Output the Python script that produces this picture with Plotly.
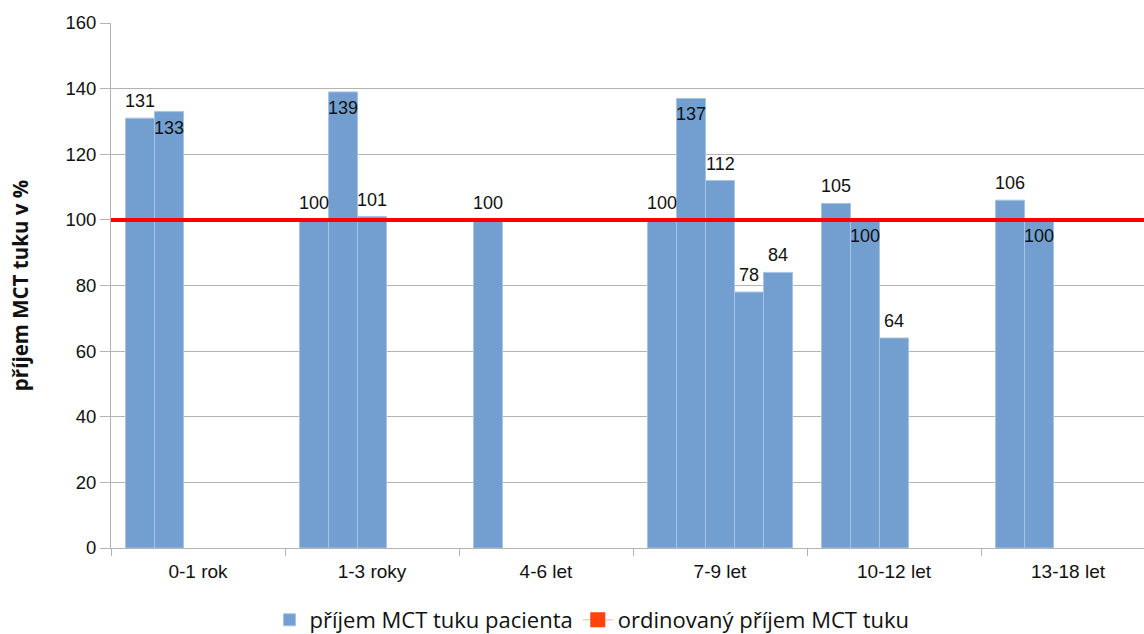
import plotly.graph_objects as go

# Age groups on the x axis
categories = ["0-1 rok", "1-3 roky", "4-6 let", "7-9 let", "10-12 let", "13-18 let"]

# Patients' MCT fat intake (% of prescribed), one list per age group
intake_0_1 = [131, 133]
intake_1_3 = [100, 139, 101]
intake_4_6 = [100]
intake_7_9 = [100, 137, 112, 78, 84]
intake_10_12 = [105, 100, 64]
intake_13_18 = [106, 100]

# Prescribed MCT fat intake (%)
prescribed = 100

y_ticks = [0, 20, 40, 60, 80, 100, 120, 140, 160]

groups = [intake_0_1, intake_1_3, intake_4_6, intake_7_9, intake_10_12, intake_13_18]
n_slots = max(len(g) for g in groups)

# value labels drawn just inside the bar top instead of above it
inside_labels = {(0, 1), (1, 1), (3, 1), (4, 1), (5, 1)}

BAR = "#729fcf"
SANS = "Liberation Sans, Arial, sans-serif"
LABEL_FONT = dict(family=SANS, size=18, color="#111111")

BARGAP = 29 / 174
X_RANGE = [-0.5, 5.5 - 11 / 174]
PLOT_L, PLOT_R = 111, 1144
cat_px = (PLOT_R - PLOT_L) / (X_RANGE[1] - X_RANGE[0])
bar_px = cat_px * (1 - BARGAP) / n_slots

fig = go.Figure()
for s in range(n_slots):
    ys = [g[s] if s < len(g) else None for g in groups]
    fig.add_trace(go.Bar(
        x=categories, y=ys,
        marker=dict(color=BAR, line=dict(color="#a9c3e3", width=1)),
        name="příjem MCT tuku pacienta", legendgroup="pac",
        showlegend=(s == 0), hoverinfo="y",
    ))

# value labels centred over each bar
annotations = []
for gi, g in enumerate(groups):
    for s, v in enumerate(g):
        inside = (gi, s) in inside_labels
        annotations.append(dict(
            x=categories[gi], y=v, xref="x", yref="y", text=str(v), showarrow=False,
            xshift=(s - (n_slots - 1) / 2) * bar_px,
            yanchor="top" if inside else "bottom",
            yshift=-4 if inside else 5,
            font=LABEL_FONT,
        ))

# prescribed level: horizontal red line across the plot
fig.add_shape(type="line", xref="paper", x0=0, x1=1, yref="y",
              y0=prescribed, y1=prescribed,
              line=dict(color="#ff0000", width=4), layer="above")
# legend entry for the prescribed level
fig.add_trace(go.Scatter(
    x=[None], y=[None], mode="lines+markers", name="ordinovaný příjem MCT tuku",
    marker=dict(symbol="square", size=15, color="#ff420e"),
    line=dict(color="#ffb3a6", width=1),
))

fig.update_layout(
    width=1144, height=634,
    margin=dict(l=PLOT_L, r=0, t=23, b=86, autoexpand=False),
    paper_bgcolor="white", plot_bgcolor="white",
    barmode="group", bargap=BARGAP, bargroupgap=0,
    font=dict(family=SANS, size=18, color="#111111"),
    showlegend=True,
    legend=dict(orientation="h", x=592 / 1144, xref="container", xanchor="center",
                y=1 - 620 / 634, yref="container", yanchor="middle",
                font=dict(family="Open Sans, sans-serif", size=22, color="#111111"),
                itemwidth=30, tracegroupgap=0),
    annotations=annotations,
    xaxis=dict(type="category", range=X_RANGE,
               tickson="boundaries", ticks="outside", ticklen=7, tickcolor="#b3b3b3",
               ticklabelstandoff=6,
               showgrid=False, showline=True, linecolor="#b3b3b3", linewidth=1,
               tickfont=dict(size=19)),
    yaxis=dict(range=[0, 160], tickvals=y_ticks, showgrid=True, gridcolor="#b3b3b3",
               gridwidth=1, zeroline=False, showline=True, linecolor="#b3b3b3",
               ticks="outside", ticklen=10, tickcolor="#b3b3b3", tickfont=dict(size=18.5),
               title=dict(text="příjem MCT tuku v %", standoff=31,
                          font=dict(family="Open Sans, sans-serif", size=20.5, color="#111111",
                                    weight="bold"))),
)

fig.write_html("out.html")
